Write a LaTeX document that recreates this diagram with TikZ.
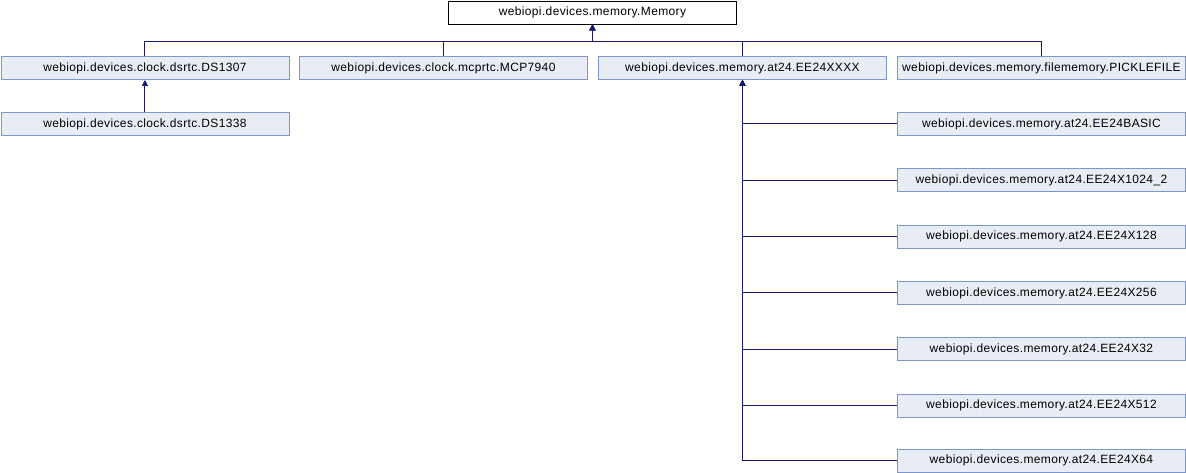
\documentclass[tikz,border=0pt]{standalone}
\usepackage{fontspec}
\setmainfont{Liberation Sans}[LetterSpace=3]
\usetikzlibrary{arrows.meta}
\definecolor{edgeblue}{HTML}{191970}
\definecolor{boxfill}{HTML}{E8ECF5}
\definecolor{boxline}{HTML}{7D94CC}
\tikzset{
  cls/.style={draw=boxline, fill=boxfill, line width=0.9pt, minimum width=288pt, minimum height=23pt, inner sep=0pt, anchor=north west, font=\fontsize{12}{14}\selectfont},
  root/.style={cls, draw=black, fill=white},
  edge/.style={draw=edgeblue, line width=1pt},
  tip/.style={{Triangle[length=6pt,width=6pt]}-}
}
\begin{document}
\begin{tikzpicture}[x=1pt,y=-1pt]
\useasboundingbox (0,0) rectangle (1186,472);
\node[root] (mem) at (448,0.5) {webiopi.devices.memory.Memory};
\node[cls] (ds1307) at (0.5,56) {webiopi.devices.clock.dsrtc.DS1307};
\node[cls] (mcp) at (299,56) {webiopi.devices.clock.mcprtc.MCP7940};
\node[cls] (ee) at (598,56) {webiopi.devices.memory.at24.EE24XXXX};
\node[cls] (pickle) at (897,56) {webiopi.devices.memory.filememory.PICKLEFILE};
\node[cls] (ds1338) at (0.5,112) {webiopi.devices.clock.dsrtc.DS1338};
\node[cls] (basic) at (897,112) {webiopi.devices.memory.at24.EE24BASIC};
\node[cls] (x1024) at (897,168.3) {webiopi.devices.memory.at24.EE24X1024\_2};
\node[cls] (x128) at (897,224.7) {webiopi.devices.memory.at24.EE24X128};
\node[cls] (x256) at (897,281) {webiopi.devices.memory.at24.EE24X256};
\node[cls] (x32) at (897,337.3) {webiopi.devices.memory.at24.EE24X32};
\node[cls] (x512) at (897,393.7) {webiopi.devices.memory.at24.EE24X512};
\node[cls] (x64) at (897,448.5) {webiopi.devices.memory.at24.EE24X64};
\foreach \c in {ds1307,mcp,ee,pickle}
  \draw[edge,tip] (mem.south) -- ++(0,17) -| (\c.north);
\draw[edge,tip] (ds1307.south) -- (ds1338.north);
\foreach \c in {basic,x1024,x128,x256,x32,x512,x64}
  \draw[edge,tip] (ee.south) |- (\c.west);
\end{tikzpicture}
\end{document}
